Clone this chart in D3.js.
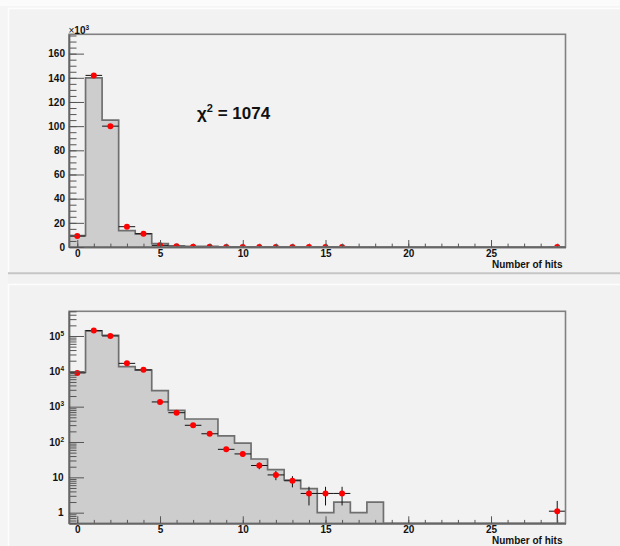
<!DOCTYPE html>
<html>
<head>
<meta charset="utf-8">
<script src="https://cdn.jsdelivr.net/npm/d3@7"></script>
<style>
  html, body { margin: 0; padding: 0; background: #f5f5f5; }
  svg { display: block; }
  text { font-family: "Liberation Sans", Arial, Helvetica, sans-serif; font-weight: bold; fill: #111; }
</style>
</head>
<body>
<script>
// ---- data ----
const hits = [0,1,2,3,4,5,6,7,8,9,10,11,12,13,14,15,16,17,18,19,20,21,22,23,24,25,26,27,28,29];
// simulated histogram (grey filled)
const simCounts = [9500,140000,105000,13600,10800,2850,790,447,447,150,93,33,16.6,8.4,4.8,1,2,1,2,0,0,0,0,0,0,0,0,0,0,0];
// measured data (red points)
const dataCounts = [9000,142000,100000,16800,11000,1360,675,297,171,62,46,21.6,11.7,8,3.5,3.5,3.5,0,0,0,0,0,0,0,0,0,0,0,0,1.1];
const dataErrors = [95,377,316,130,105,37,26,17,13,7.9,6.8,4.6,3.4,2.8,1.9,1.9,1.9,0,0,0,0,0,0,0,0,0,0,0,0,1.05];
const xTickLabels = [0,5,10,15,20,25];
const linTickLabels = [0,20,40,60,80,100,120,140,160];   // in units of 10^3
const logTickLabels = [1,10,100,1000,10000,100000];
const chi2Text = "1074";
const xTitle = "Number of hits";

const W = 620, H = 546;
const svg = d3.select("body").append("svg").attr("width", W).attr("height", H);

// ---- backgrounds / pads ----
svg.append("rect").attr("x",0).attr("y",0).attr("width",W).attr("height",H).attr("fill","#f5f5f5");
svg.append("rect").attr("x",0).attr("y",0).attr("width",W).attr("height",6).attr("fill","#fbfbfb");
function pad(y0, y1) {
  svg.append("rect").attr("x",8).attr("y",y0).attr("width",W-8).attr("height",y1-y0).attr("fill","#f2f2f2");
  svg.append("line").attr("x1",8).attr("x2",W).attr("y1",y0+0.5).attr("y2",y0+0.5).attr("stroke","#fdfdfd").attr("stroke-width",1.5);
  svg.append("line").attr("x1",8.5).attr("x2",8.5).attr("y1",y0).attr("y2",y1).attr("stroke","#fdfdfd").attr("stroke-width",1.5);
}
pad(8, 272);
svg.append("rect").attr("x",8).attr("y",272).attr("width",W-8).attr("height",12).attr("fill","#f2f2f2");
svg.append("line").attr("x1",8).attr("x2",W).attr("y1",273.3).attr("y2",273.3).attr("stroke","#c6c6c6").attr("stroke-width",2);
pad(284, H);

// ---- shared x scale ----
const fx0 = 69, fx1 = 565.5;
const x = d3.scaleLinear().domain([-0.5, 29.5]).range([fx0, fx1]);

function drawPanel(cfg) {
  const {top, bottom, y, isLog, id} = cfg;
  const g = svg.append("g");
  svg.append("clipPath").attr("id", id).append("rect")
    .attr("x", fx0).attr("y", top).attr("width", fx1 - fx0).attr("height", bottom - top);
  const plot = g.append("g").attr("clip-path", `url(#${id})`);

  const floor = isLog ? 1e-3 : 0;
  const steps = hits.map((h, i) => ({x: h - 0.5, v: Math.max(simCounts[i], floor)}));
  steps.push({x: hits[hits.length-1] + 0.5, v: Math.max(simCounts[simCounts.length-1], floor)});

  const area = d3.area().curve(d3.curveStepAfter)
    .x(d => x(d.x)).y0(bottom + 5).y1(d => y(d.v));
  plot.append("path").datum(steps).attr("d", area).attr("fill", "#cdcdcd");

  const line = d3.line().curve(d3.curveStepAfter).x(d => x(d.x)).y(d => y(d.v));
  const lineData = [{x: -0.5, v: floor}].concat(steps);
  plot.append("path").datum(lineData).attr("d", line)
    .attr("fill", "none").attr("stroke", "#6f6f6f").attr("stroke-width", 1.7);

  // data points with error bars
  const pts = hits.map((h, i) => ({h, v: dataCounts[i], e: dataErrors[i]})).filter(d => d.v > 0);
  const eb = plot.append("g").attr("stroke", "#111").attr("stroke-width", 1);
  eb.selectAll("line.h").data(pts).join("line").attr("class","h")
    .attr("x1", d => x(d.h - 0.5)).attr("x2", d => x(d.h + 0.5))
    .attr("y1", d => y(d.v)).attr("y2", d => y(d.v));
  eb.selectAll("line.v").data(pts).join("line").attr("class","v")
    .attr("x1", d => x(d.h)).attr("x2", d => x(d.h))
    .attr("y1", d => y(d.v + d.e))
    .attr("y2", d => (d.v - d.e) > floor ? y(d.v - d.e) : bottom + 5);
  plot.selectAll("circle").data(pts).join("circle")
    .attr("cx", d => x(d.h)).attr("cy", d => y(d.v)).attr("r", 3).attr("fill", "#ff0000");

  // frame
  g.append("rect").attr("x", fx0).attr("y", top).attr("width", fx1 - fx0).attr("height", bottom - top)
    .attr("fill", "none").attr("stroke", "#808080").attr("stroke-width", 1.6);

  // x axis: minor & major ticks inward
  const xMinor = d3.axisBottom(x).tickValues(hits).tickSizeInner(-3.4).tickSizeOuter(0).tickFormat("");
  const xMajor = d3.axisBottom(x).tickValues(xTickLabels).tickSizeInner(-7).tickSizeOuter(0).tickPadding(3);
  const gxm = g.append("g").attr("transform", `translate(0,${bottom})`).call(xMinor);
  const gx = g.append("g").attr("transform", `translate(0,${bottom})`).call(xMajor);
  [gxm, gx].forEach(s => { s.select(".domain").attr("stroke", "#666").attr("stroke-width", 1.4);
    s.selectAll(".tick line").attr("stroke", "#555"); });
  gx.selectAll(".tick text").attr("font-size", 10).attr("fill", "#111")
    .style("font-family", "'Liberation Sans', Arial, sans-serif").style("font-weight", "bold");

  g.append("text").attr("x", 562.5).attr("y", bottom + 21).attr("text-anchor", "end")
    .attr("font-size", 10).text(xTitle);
  return g;
}

// ---- top (linear) panel ----
const t0 = 34.3, t1 = 247;
const yLin = d3.scaleLinear().domain([0, 176000]).range([t1, t0]);
const gTop = drawPanel({top: t0, bottom: t1, y: yLin, isLog: false, id: "clipTop"});
{
  const minorVals = d3.range(0, 176000, 5000);
  const yMinor = d3.axisLeft(yLin).tickValues(minorVals).tickSizeInner(-7.5).tickSizeOuter(0).tickFormat("");
  const yMajor = d3.axisLeft(yLin).tickValues(linTickLabels.map(v => v * 1000)).tickSizeInner(-15).tickSizeOuter(0)
    .tickPadding(4).tickFormat(d => d / 1000);
  const a = gTop.append("g").attr("transform", `translate(${fx0},0)`).call(yMinor);
  const b = gTop.append("g").attr("transform", `translate(${fx0},0)`).call(yMajor);
  [a, b].forEach(s => { s.select(".domain").attr("stroke", "#666").attr("stroke-width", 1.4);
    s.selectAll(".tick line").attr("stroke", "#555"); });
  b.selectAll(".tick text").attr("font-size", 10).attr("fill", "#111")
    .style("font-family", "'Liberation Sans', Arial, sans-serif").style("font-weight", "bold");
  // x10^3 label
  const m = gTop.append("text").attr("x", 68.5).attr("y", 33.5).attr("font-size", 10);
  m.append("tspan").style("font-weight", "normal").text("\u00d7");
  m.append("tspan").text("10");
  m.append("tspan").attr("font-size", 6.5).attr("dy", -4).text("3");
  // chi2
  const c = gTop.append("text").attr("x", 197).attr("y", 119).attr("font-size", 17);
  c.append("tspan").text("\u03c7");
  c.append("tspan").attr("font-size", 11).attr("dy", -7).text("2");
  c.append("tspan").attr("dy", 7).text(" = " + chi2Text);
}

// ---- bottom (log) panel ----
const b0 = 311.3, b1 = 523.3;
const yLog = d3.scaleLog().domain([0.5, 5e5]).range([b1, b0]).clamp(true);
const gBot = drawPanel({top: b0, bottom: b1, y: yLog, isLog: true, id: "clipBot"});
{
  const minorVals = [];
  [0.1, 1, 10, 100, 1000, 10000, 100000].forEach(dec => {
    for (let k = 2; k <= 9; k++) { const v = k * dec; if (v >= 0.5 && v <= 5e5) minorVals.push(v); }
  });
  const yMinor = d3.axisLeft(yLog).tickValues(minorVals).tickSizeInner(-7.5).tickSizeOuter(0).tickFormat("");
  const yMajor = d3.axisLeft(yLog).tickValues(logTickLabels).tickSizeInner(-15).tickSizeOuter(0).tickFormat("");
  const a = gBot.append("g").attr("transform", `translate(${fx0},0)`).call(yMinor);
  const b = gBot.append("g").attr("transform", `translate(${fx0},0)`).call(yMajor);
  [a, b].forEach(s => { s.select(".domain").attr("stroke", "#666").attr("stroke-width", 1.4);
    s.selectAll(".tick line").attr("stroke", "#555"); });
  logTickLabels.forEach(v => {
    const e = Math.round(Math.log10(v));
    const t = gBot.append("text").attr("y", yLog(v) + 3.6).attr("font-size", 10).attr("text-anchor", "end");
    if (e === 0) { t.attr("x", 63.5).text("1"); }
    else if (e === 1) { t.attr("x", 63.5).text("10"); }
    else {
      t.attr("x", 64);
      t.append("tspan").text("10");
      t.append("tspan").attr("font-size", 6.5).attr("dy", -4).text(String(e));
    }
  });
}
</script>
</body>
</html>
